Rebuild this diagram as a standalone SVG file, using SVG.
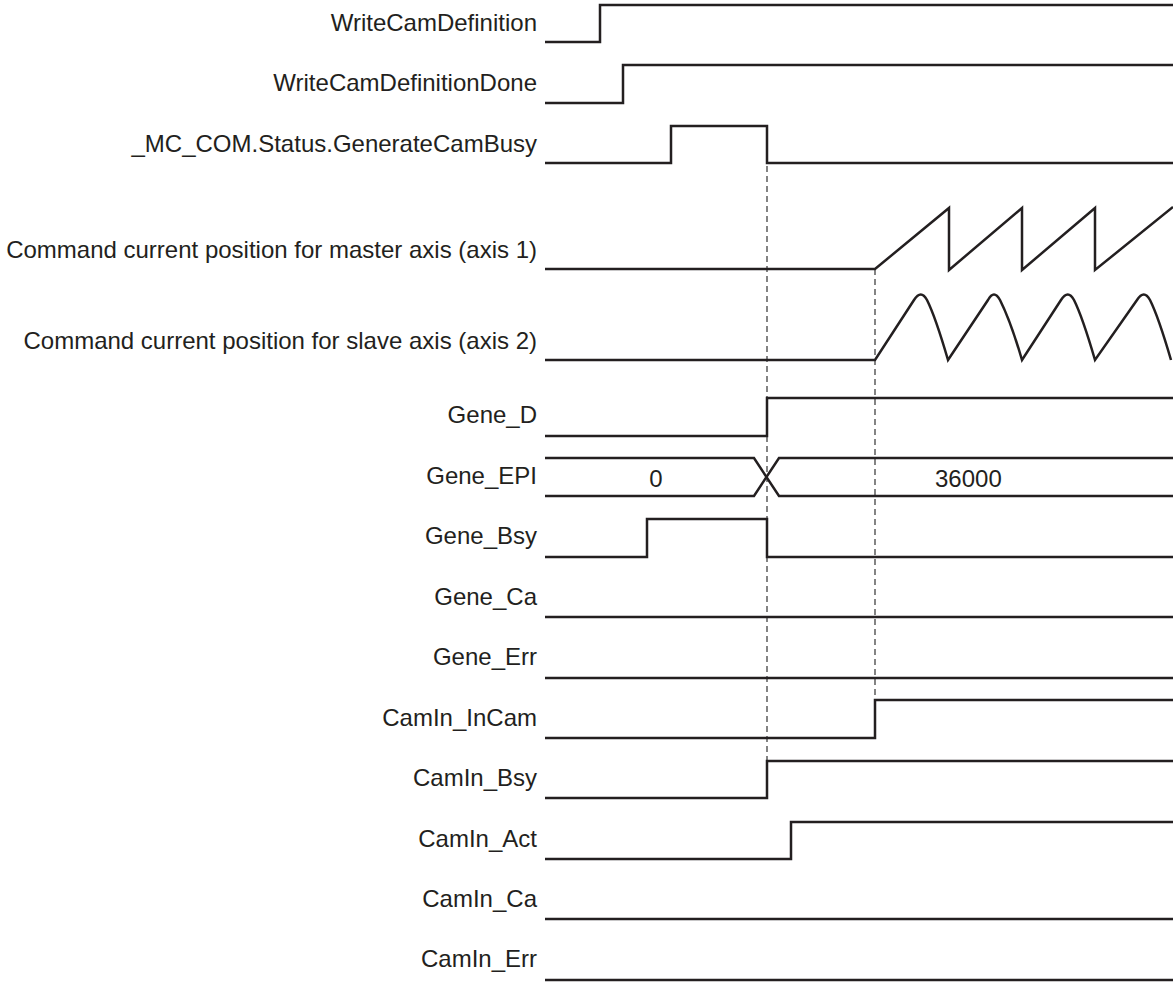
<svg xmlns="http://www.w3.org/2000/svg" width="1173" height="982" viewBox="0 0 1173 982">
<style>
text{font-family:"Liberation Sans",Arial,Helvetica,sans-serif;font-size:24px;fill:#231f20}
.lbl{text-anchor:end}
.val{text-anchor:middle}
.w{fill:none;stroke:#231f20;stroke-width:2.5;stroke-linejoin:miter;stroke-linecap:butt}
.d{fill:none;stroke:#333;stroke-width:1.2;stroke-dasharray:6 4}
</style>
<rect width="1173" height="982" fill="#fff"/>
<g id="connectors">
<line class="d" x1="767" y1="166" x2="767" y2="761"/>
<line class="d" x1="875" y1="269" x2="875" y2="700"/>
</g>
<g id="sig-writecamdefinition">
<text class="lbl" x="537" y="31">WriteCamDefinition</text>
<path class="w" d="M545,42 H600 V5 H1173"/>
</g>
<g id="sig-writecamdefinitiondone">
<text class="lbl" x="537" y="91">WriteCamDefinitionDone</text>
<path class="w" d="M545,103 H623 V65 H1173"/>
</g>
<g id="sig-generatecambusy">
<text class="lbl" x="537" y="152">_MC_COM.Status.GenerateCamBusy</text>
<path class="w" d="M545,163 H671 V126 H767 V163 H1173"/>
</g>
<g id="sig-master">
<text class="lbl" x="537" y="258">Command current position for master axis (axis 1)</text>
<path class="w" d="M545,269 H875 L949,208 V270 L1022,208 V270 L1095,208 V270 L1173,207"/>
</g>
<g id="sig-slave">
<text class="lbl" x="537" y="349">Command current position for slave axis (axis 2)</text>
<path class="w" d="M545,360 H875 L914,300 Q921,289 927,300 C934,314 941,336 948,360 L988,300 Q994,289 1000,300 C1007,314 1015,336 1022,360 L1061,300 Q1068,289 1074,300 C1081,314 1088,336 1095,360 L1137,300 Q1144,289 1150,300 C1157,314 1164,336 1171,360"/>
</g>
<g id="sig-gene-d">
<text class="lbl" x="537" y="423">Gene_D</text>
<path class="w" d="M545,436 H767 V398 H1173"/>
</g>
<g id="sig-gene-epi">
<text class="lbl" x="537" y="484">Gene_EPI</text>
<path class="w" d="M545,458 H754 L779,496 H1173"/>
<path class="w" d="M545,496 H754 L779,458 H1173"/>
<text class="val" x="656" y="487">0</text>
<text x="935" y="487">36000</text>
</g>
<g id="sig-gene-bsy">
<text class="lbl" x="537" y="544">Gene_Bsy</text>
<path class="w" d="M545,557 H647 V519 H767 V557 H1173"/>
</g>
<g id="sig-gene-ca">
<text class="lbl" x="537" y="605">Gene_Ca</text>
<path class="w" d="M545,617 H1173"/>
</g>
<g id="sig-gene-err">
<text class="lbl" x="537" y="665">Gene_Err</text>
<path class="w" d="M545,678 H1173"/>
</g>
<g id="sig-camin-incam">
<text class="lbl" x="537" y="726">CamIn_InCam</text>
<path class="w" d="M545,738 H875 V700 H1173"/>
</g>
<g id="sig-camin-bsy">
<text class="lbl" x="537" y="786">CamIn_Bsy</text>
<path class="w" d="M545,798 H767 V761 H1173"/>
</g>
<g id="sig-camin-act">
<text class="lbl" x="537" y="847">CamIn_Act</text>
<path class="w" d="M545,859 H791 V822 H1173"/>
</g>
<g id="sig-camin-ca">
<text class="lbl" x="537" y="907">CamIn_Ca</text>
<path class="w" d="M545,919 H1173"/>
</g>
<g id="sig-camin-err">
<text class="lbl" x="537" y="967">CamIn_Err</text>
<path class="w" d="M545,980 H1173"/>
</g>
</svg>
